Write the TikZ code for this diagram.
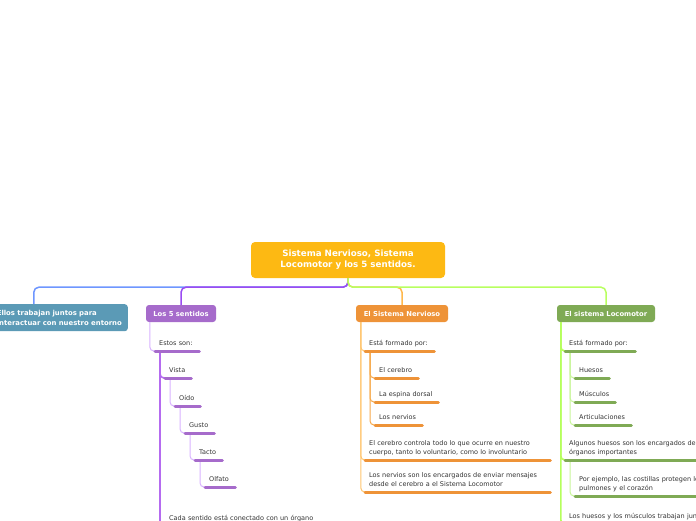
\documentclass[tikz,border=0pt]{standalone}
\usepackage{fontspec}
\setmainfont{DejaVu Sans}
\definecolor{cYel}{HTML}{FDB913}
\definecolor{cBlueF}{HTML}{5B9AB6}
\definecolor{cBlueL}{HTML}{6E96FF}
\definecolor{cPurF}{HTML}{A66BCB}
\definecolor{cPurL}{HTML}{9A4CF2}
\definecolor{cPurLt}{HTML}{D8B2FF}
\definecolor{cPurM}{HTML}{B56BF0}
\definecolor{cOrF}{HTML}{EE9338}
\definecolor{cOrL}{HTML}{FFB84D}
\definecolor{cOrLt}{HTML}{FFC56E}
\definecolor{cOrM}{HTML}{F6A84A}
\definecolor{cGrF}{HTML}{7FAA55}
\definecolor{cGrL}{HTML}{B8FF60}
\definecolor{cGrLt}{HTML}{B5FF5C}
\definecolor{cGrM}{HTML}{C8F59A}
\definecolor{cTxt}{HTML}{333333}
\begin{document}
\begin{tikzpicture}[x=1pt,y=-1pt,
  topic/.style={rounded corners=3pt, text=white, font=\bfseries\fontsize{6.8}{9}\selectfont, minimum height=17pt, inner sep=0pt},
  leaf/.style={anchor=south west, align=left, inner xsep=4pt, inner ysep=3pt, text depth=2pt, text width=#1, text=cTxt, font=\fontsize{6.5}{9}\selectfont},
  leaftwo/.style={leaf=#1, text depth=11pt},
  ul/.style={line width=3pt, line cap=round},
  mainline/.style={line width=1.5pt, rounded corners=5pt},
  subline/.style={line width=1pt, rounded corners=4pt},
]
\useasboundingbox (0,0) rectangle (696,520);

% central and main topics
\node[fill=cYel, rounded corners=4pt, minimum width=194pt, minimum height=36pt, inner sep=0pt,
      text=white, align=center, font=\bfseries\fontsize{8.7}{11}\selectfont] (center) at (348,260)
  {Sistema Nervioso, Sistema\\Locomotor y los 5 sentidos.};
\node[topic, fill=cBlueF, anchor=north east, align=left, inner xsep=8pt, text width=123pt, minimum height=27pt, font=\bfseries\fontsize{6.9}{10}\selectfont] (blue) at (128,304)
  {\mbox{Ellos trabajan juntos para}\\\mbox{interactuar con nuestro entorno}};
\node[topic, fill=cPurF, minimum width=70pt] (sent) at (181,313.5) {Los 5 sentidos};
\node[topic, fill=cOrF, minimum width=92pt] (nerv) at (402,313.5) {El Sistema Nervioso};
\node[topic, fill=cGrF, minimum width=98pt] (loco) at (606,313.5) {El sistema Locomotor};

% main connectors
\draw[mainline, cBlueL] (center.south) -- ++(0,9) -| ([xshift=-24.5pt]blue.north);
\draw[mainline, cPurL] (center.south) -- ++(0,9) -| (sent.north);
\draw[mainline, cOrL] (center.south) -- ++(0,9) -| (nerv.north);
\draw[mainline, cGrL] (center.south) -- ++(0,9) -| (loco.north);

% purple leaves
\node[leaf=36pt] (estos) at (155,351) {\mbox{Estos son:}};
\node[leaf=18pt] (vista) at (165,378) {\mbox{Vista}};
\node[leaf=17pt] (oido) at (175,406) {\mbox{Oído}};
\node[leaf=21pt] (gusto) at (185,433) {\mbox{Gusto}};
\node[leaf=19pt] (tacto) at (195,460) {\mbox{Tacto}};
\node[leaf=22pt] (olfato) at (205,487) {\mbox{Olfato}};
\node[leaf=182pt] (cada) at (165,526) {\mbox{Cada sentido está conectado con un órgano}};

\draw[subline, cPurLt] ([xshift=4pt]sent.south west) |- (estos.south west);
\draw[line width=1.6pt, rounded corners=4pt, cPurM] ([xshift=5pt]estos.south west) |- (vista.south west);
\draw[line width=1.6pt, rounded corners=4pt, cPurM] ([xshift=5pt]estos.south west) |- (cada.south west);
\draw[subline, cPurLt] ([xshift=5pt]vista.south west) |- (oido.south west);
\draw[subline, cPurLt] ([xshift=5pt]oido.south west) |- (gusto.south west);
\draw[subline, cPurLt] ([xshift=5pt]gusto.south west) |- (tacto.south west);
\draw[subline, cPurLt] ([xshift=5pt]tacto.south west) |- (olfato.south west);
\foreach \n in {estos,vista,oido,gusto,tacto,olfato,cada}
  \draw[ul, cPurF] (\n.south west) -- (\n.south east);

% orange leaves
\node[leaf=61pt] (form1) at (365,351) {\mbox{Está formado por:}};
\node[leaf=35pt] (cereb) at (375,378) {\mbox{El cerebro}};
\node[leaf=55pt] (espina) at (375,402) {\mbox{La espina dorsal}};
\node[leaf=39pt] (nervios) at (375,425) {\mbox{Los nervios}};
\node[leaftwo=177pt] (contr) at (365,460) {\mbox{El cerebro controla todo lo que ocurre en nuestro}\\\mbox{cuerpo, tanto lo voluntario, como lo involuntario}};
\node[leaftwo=177pt] (mens) at (365,492) {\mbox{Los nervios son los encargados de enviar mensajes}\\\mbox{desde el cerebro a el Sistema Locomotor}};

\draw[subline, cOrLt] ([xshift=5pt]nerv.south west) |- (form1.south west);
\draw[subline, cOrLt] ([xshift=5pt]nerv.south west) |- (contr.south west);
\draw[subline, cOrLt] ([xshift=5pt]nerv.south west) |- (mens.south west);
\draw[subline, cOrM] ([xshift=5pt]form1.south west) |- (cereb.south west);
\draw[subline, cOrM] ([xshift=5pt]form1.south west) |- (espina.south west);
\draw[subline, cOrM] ([xshift=5pt]form1.south west) |- (nervios.south west);
\foreach \n in {form1,cereb,espina,nervios,contr,mens}
  \draw[ul, cOrF] (\n.south west) -- (\n.south east);

% green leaves
\node[leaf=62pt] (form2) at (565,351) {\mbox{Está formado por:}};
\node[leaf=26pt] (huesos) at (575,378) {\mbox{Huesos}};
\node[leaf=32pt] (musc) at (575,402) {\mbox{Músculos}};
\node[leaf=48pt] (artic) at (575,425) {\mbox{Articulaciones}};
\node[leaftwo=192pt] (prot) at (565,460) {\mbox{Algunos huesos son los encargados de proteger}\\\mbox{órganos importantes}};
\node[leaftwo=192pt] (cost) at (575,496) {\mbox{Por ejemplo, las costillas protegen los}\\\mbox{pulmones y el corazón}};
\node[leaf=192pt] (trab) at (565,524) {\mbox{Los huesos y los músculos trabajan juntos}};

\draw[line width=1.6pt, rounded corners=4pt, cGrLt] ([xshift=4pt]loco.south west) |- (form2.south west);
\draw[line width=1.6pt, rounded corners=4pt, cGrLt] ([xshift=4pt]loco.south west) |- (prot.south west);
\draw[line width=1.6pt, rounded corners=4pt, cGrLt] ([xshift=4pt]loco.south west) |- (trab.south west);
\draw[subline, cGrM] ([xshift=5pt]form2.south west) |- (huesos.south west);
\draw[subline, cGrM] ([xshift=5pt]form2.south west) |- (musc.south west);
\draw[subline, cGrM] ([xshift=5pt]form2.south west) |- (artic.south west);
\draw[subline, cGrM] ([xshift=5pt]prot.south west) |- (cost.south west);
\foreach \n in {form2,huesos,musc,artic,prot,cost,trab}
  \draw[ul, cGrF] (\n.south west) -- (\n.south east);
\end{tikzpicture}
\end{document}
